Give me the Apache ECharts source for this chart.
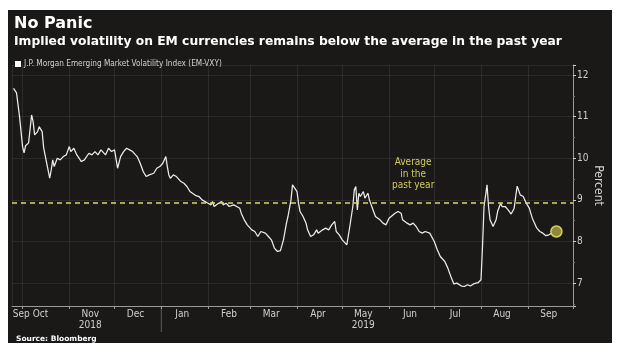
<!DOCTYPE html>
<html>
<head>
<meta charset="utf-8">
<script src="https://cdn.jsdelivr.net/npm/echarts@6/dist/echarts.min.js"></script>
<style>
  html, body { margin: 0; padding: 0; background: #ffffff; }
  #panel { position: absolute; left: 8px; top: 10px; width: 604px; height: 333px; background: #1b1917; }
  #chart { position: absolute; left: 0; top: 0; width: 620px; height: 355px; }
</style>
</head>
<body>
<div id="panel"></div>
<div id="chart"></div>
<script>
const seriesName = 'J.P. Morgan Emerging Market Volatility Index (EM-VXY)';
const dates = [
 '2018-09-25','2018-09-27','2018-09-29','2018-10-01','2018-10-02','2018-10-03','2018-10-05','2018-10-07','2018-10-08','2018-10-09',
 '2018-10-11','2018-10-12','2018-10-14','2018-10-15','2018-10-17','2018-10-19','2018-10-20','2018-10-21','2018-10-22','2018-10-24',
 '2018-10-26','2018-10-28','2018-10-30','2018-11-01','2018-11-02','2018-11-04','2018-11-06','2018-11-09','2018-11-11','2018-11-14',
 '2018-11-16','2018-11-18','2018-11-20','2018-11-22','2018-11-25','2018-11-27','2018-11-29','2018-12-01','2018-12-02','2018-12-03',
 '2018-12-05','2018-12-07','2018-12-09','2018-12-11','2018-12-13','2018-12-16','2018-12-18','2018-12-20','2018-12-22','2018-12-24',
 '2018-12-27','2018-12-29','2018-12-31','2019-01-02','2019-01-04','2019-01-05','2019-01-06','2019-01-07','2019-01-09','2019-01-11',
 '2019-01-14','2019-01-16','2019-01-18','2019-01-20','2019-01-24','2019-01-26','2019-01-27','2019-01-28','2019-01-29','2019-02-01',
 '2019-02-03','2019-02-04','2019-02-05','2019-02-08','2019-02-10','2019-02-11','2019-02-13','2019-02-15','2019-02-18','2019-02-20',
 '2019-02-22','2019-02-23','2019-02-25','2019-02-27','2019-03-02','2019-03-04','2019-03-06','2019-03-08','2019-03-11','2019-03-13',
 '2019-03-15','2019-03-17','2019-03-19','2019-03-21','2019-03-23','2019-03-25','2019-03-26','2019-03-28','2019-03-29','2019-03-30',
 '2019-04-01','2019-04-02','2019-04-03','2019-04-05','2019-04-07','2019-04-08','2019-04-10','2019-04-12','2019-04-14','2019-04-15',
 '2019-04-18','2019-04-20','2019-04-22','2019-04-24','2019-04-26','2019-04-27','2019-04-29','2019-05-01','2019-05-04','2019-05-05',
 '2019-05-06','2019-05-08','2019-05-09','2019-05-10','2019-05-11','2019-05-12','2019-05-13','2019-05-15','2019-05-16','2019-05-18',
 '2019-05-19','2019-05-21','2019-05-23','2019-05-26','2019-05-28','2019-05-30','2019-06-01','2019-06-05','2019-06-07','2019-06-09',
 '2019-06-10','2019-06-13','2019-06-15','2019-06-17','2019-06-19','2019-06-21','2019-06-23','2019-06-25','2019-06-28','2019-06-29',
 '2019-07-01','2019-07-03','2019-07-05','2019-07-08','2019-07-10','2019-07-12','2019-07-14','2019-07-16','2019-07-19','2019-07-21',
 '2019-07-23','2019-07-25','2019-07-27','2019-07-30','2019-08-01','2019-08-02','2019-08-03','2019-08-05','2019-08-06','2019-08-07',
 '2019-08-09','2019-08-11','2019-08-12','2019-08-14','2019-08-15','2019-08-17','2019-08-19','2019-08-21','2019-08-23','2019-08-24',
 '2019-08-25','2019-08-27','2019-08-29','2019-08-31','2019-09-02','2019-09-04','2019-09-07','2019-09-09','2019-09-11','2019-09-13',
 '2019-09-15','2019-09-17','2019-09-20'
];
const values = [
 11.68,11.57,11.0,10.28,10.13,10.3,10.37,11.04,10.88,10.56,
 10.64,10.76,10.64,10.25,9.88,9.52,9.72,9.96,9.8,10.0,
 9.96,10.04,10.08,10.28,10.16,10.24,10.08,9.92,9.96,10.12,
 10.08,10.16,10.08,10.2,10.08,10.24,10.16,10.2,10.16,9.76,
 10.04,10.16,10.24,10.2,10.16,10.04,9.88,9.68,9.56,9.6,
 9.64,9.76,9.8,9.88,10.04,9.8,9.6,9.52,9.6,9.56,
 9.44,9.4,9.32,9.2,9.1,9.08,9.12,9.0,9.04,8.92,
 8.88,8.96,8.84,8.92,8.96,8.88,8.92,8.84,8.88,8.84,
 8.8,8.68,8.52,8.4,8.28,8.24,8.12,8.24,8.2,8.12,
 8.04,7.84,7.76,7.78,8.04,8.44,8.6,9.0,9.36,9.4,
 9.2,8.92,8.72,8.6,8.44,8.28,8.12,8.16,8.28,8.2,
 8.28,8.32,8.28,8.4,8.48,8.24,8.16,8.04,7.92,7.88,
 8.36,8.84,9.24,9.32,8.76,9.16,9.08,9.2,9.04,9.16,
 9.0,8.8,8.6,8.52,8.44,8.4,8.56,8.68,8.72,8.68,
 8.52,8.44,8.4,8.44,8.36,8.24,8.2,8.24,8.2,8.24,
 8.0,7.8,7.64,7.52,7.36,7.16,6.98,7.0,6.93,6.92,
 6.96,6.93,6.98,7.01,7.08,7.88,8.84,9.36,8.84,8.52,
 8.36,8.52,8.72,8.92,8.84,8.84,8.76,8.66,8.8,9.08,
 9.33,9.12,9.08,8.92,8.8,8.56,8.32,8.24,8.2,8.14,
 8.16,8.2,8.24
];
const avgValue = 8.92;
const avgLabelText = 'Average\nin the\npast year';
const avgLabelAt = ['2019-06-17', 9.62];
const xMin = '2018-09-24';
const xMax = '2019-10-01';
const yMin = 6.45;
const yMax = 12.24;
const monthNames = ['Jan','Feb','Mar','Apr','May','Jun','Jul','Aug','Sep','Oct','Nov','Dec'];
const firstMonthLabels = ['Sep', 'Oct'];
const yearUnder = { '2018-10': '2018', '2019-4': '2019' };
const yearSeparator = '2019-01-01';
const titleText = 'No Panic';
const subtitleText = 'Implied volatility on EM currencies remains below the average in the past year';
const sourceText = 'Source: Bloomberg';

const narrow = "'Liberation Sans Narrow', 'DejaVu Sans Condensed', sans-serif";
const minTs = +echarts.time.parse(xMin);
const maxTs = +echarts.time.parse(xMax);
const firstTickTs = +echarts.time.parse('2018-10-01');

const chart = echarts.init(document.getElementById('chart'), null, { renderer: 'canvas' });
const lineData = dates.map((d, i) => [d, values[i]]);
const last = lineData[lineData.length - 1];
const lbl = { color: '#d0d0d0', fontSize: 10, fontFamily: narrow, lineHeight: 11 };

chart.setOption({
  backgroundColor: 'transparent',
  animation: false,
  title: [
    { text: titleText, subtext: subtitleText, left: 9, top: 11, itemGap: 4,
      textStyle: { color: '#ffffff', fontSize: 16, fontWeight: 'bold', fontFamily: 'DejaVu Sans' },
      subtextStyle: { color: '#ffffff', fontSize: 12.3, fontWeight: 'bold', fontFamily: 'DejaVu Sans' } },
    { text: sourceText, left: 11, top: 330,
      textStyle: { color: '#ffffff', fontSize: 7.5, fontWeight: 'bold', fontFamily: 'DejaVu Sans' } }
  ],
  legend: {
    data: [seriesName], left: 10, top: 55, icon: 'rect', itemWidth: 6, itemHeight: 6, itemGap: 3,
    textStyle: { color: '#d0d0d0', fontSize: 8.2, fontFamily: narrow, padding: [0, 0, 0, -2] }
  },
  grid: { left: 12, right: 47, top: 65, bottom: 49, containLabel: false, outerBoundsMode: 'none' },
  xAxis: {
    type: 'time', min: xMin, max: xMax,
    minInterval: 28 * 86400000, maxInterval: 31 * 86400000,
    axisLine: { show: true, lineStyle: { color: '#9a9a9a', width: 1 } },
    axisTick: { show: true, length: 3, lineStyle: { color: '#9a9a9a' } },
    splitLine: { show: true, lineStyle: { color: 'rgba(255,255,255,0.08)', width: 1 } },
    axisLabel: {
      show: true, hideOverlap: false, showMinLabel: false, showMaxLabel: false,
      color: '#d0d0d0', fontSize: 10, fontFamily: narrow, margin: 3, align: 'center', lineHeight: 11,
      formatter: function (v) {
        const dt = new Date(v);
        const t = +dt;
        if (t >= maxTs || t <= minTs) return '';
        if (t === firstTickTs) return '{s|' + firstMonthLabels[0] + '}{o|' + firstMonthLabels[1] + '}';
        const m = monthNames[dt.getMonth()];
        const yr = yearUnder[dt.getFullYear() + '-' + dt.getMonth()];
        return '{m|' + m + '}' + (yr ? '\n{m|' + yr + '}' : '');
      },
      rich: {
        s: Object.assign({ padding: [0, 3, 0, 16] }, lbl),
        o: Object.assign({}, lbl),
        m: Object.assign({ padding: [0, 0, 0, 42] }, lbl)
      }
    }
  },
  yAxis: {
    type: 'value', position: 'right', min: yMin, max: yMax,
    name: 'Percent', nameLocation: 'middle', nameRotate: -90, nameGap: 19, nameMoveOverlap: false,
    nameTextStyle: { color: '#d0d0d0', fontSize: 12, fontFamily: narrow },
    axisLine: { show: true, lineStyle: { color: '#9a9a9a', width: 1 } },
    axisTick: { show: true, length: 3, lineStyle: { color: '#d0d0d0' } },
    minorTick: { show: true, splitNumber: 2, length: 2, lineStyle: { color: '#777' } },
    splitLine: { show: true, lineStyle: { color: 'rgba(255,255,255,0.07)' } },
    axisLabel: { color: '#d0d0d0', fontSize: 10, fontFamily: narrow, margin: 4, showMinLabel: false, showMaxLabel: false }
  },
  series: [{
    name: seriesName, type: 'line', data: lineData, showSymbol: false, symbol: 'none',
    itemStyle: { color: '#ffffff' },
    lineStyle: { color: '#ececec', width: 1.25 },
    markLine: {
      silent: true, symbol: 'none', label: { show: false },
      lineStyle: { color: '#dcd66a', type: [5, 4], width: 1.6 },
      data: [{ yAxis: avgValue }]
    },
    markPoint: {
      silent: true,
      data: [
        { coord: avgLabelAt, symbol: 'circle', symbolSize: 0,
          label: { show: true, formatter: avgLabelText, color: '#d2cc5e', fontSize: 10, lineHeight: 11.5,
                   fontFamily: narrow, align: 'center', verticalAlign: 'middle', position: 'inside' } },
        { coord: last, symbol: 'circle', symbolSize: 11,
          itemStyle: { color: '#8e883a', borderColor: '#d8d262', borderWidth: 1.5 }, label: { show: false } }
      ]
    }
  }]
});

const sepX = chart.convertToPixel({ xAxisIndex: 0 }, +echarts.time.parse(yearSeparator));
const gridBottomY = chart.convertToPixel({ yAxisIndex: 0 }, yMin);
chart.setOption({
  graphic: [{ type: 'line', silent: true,
    shape: { x1: sepX, y1: gridBottomY, x2: sepX, y2: gridBottomY + 26 },
    style: { stroke: '#5a5a5a', lineWidth: 1 } }]
});
</script>
</body>
</html>
